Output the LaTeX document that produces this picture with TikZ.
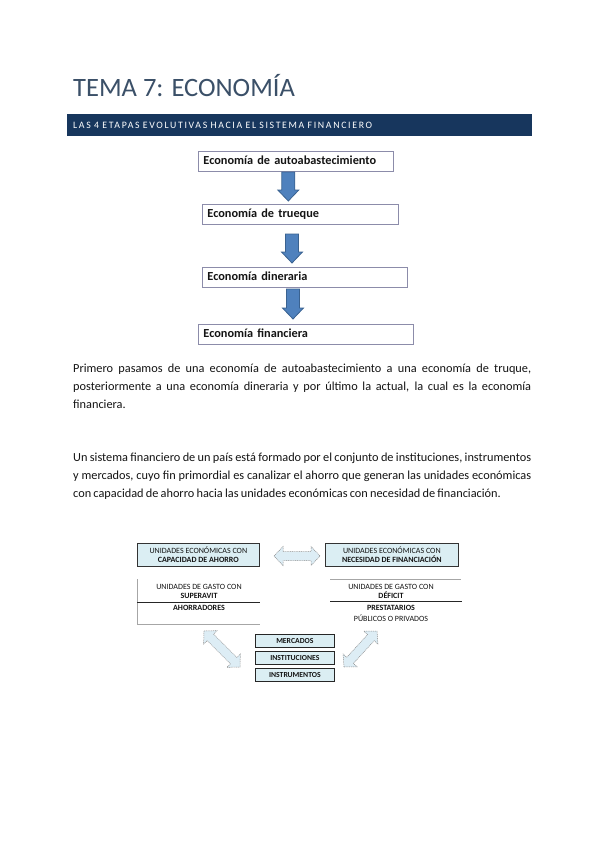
\documentclass[tikz,border=0pt]{standalone}
\usepackage{fontspec}
\setmainfont{Carlito}
\newfontfamily\parafont[WordSpace=0.8]{Carlito}
\usetikzlibrary{calc,shadows}
\definecolor{titlecol}{HTML}{3B5068}
\definecolor{bannercol}{HTML}{17365D}
\definecolor{stageborder}{HTML}{8C8CAA}
\definecolor{arrowfill}{HTML}{4F81BD}
\definecolor{arrowline}{HTML}{3A6290}
\definecolor{lightblue}{HTML}{DBEEF3}
\definecolor{dafill}{HTML}{DDEDF5}
\definecolor{txt}{HTML}{141414}
\newcommand\dnarrow[3]{\filldraw[blockarrow] (#1-6.5,#2) -- (#1+6.5,#2) -- (#1+6.5,#3-11) -- (#1+10.5,#3-11) -- (#1,#3) -- (#1-10.5,#3-11) -- (#1-6.5,#3-11) -- cycle;}
\newcommand\dblarrow[2]{%
  \coordinate (h1) at ($(#1)!9pt!(#2)$);
  \coordinate (h2) at ($(#2)!9pt!(#1)$);
  \filldraw[dblarr] (#1) -- ($(h1)!9.5pt!90:(#2)$) -- ($(h1)!4.5pt!90:(#2)$) -- ($(h2)!4.5pt!-90:(#1)$) -- ($(h2)!9.5pt!-90:(#1)$) -- (#2) -- ($(h2)!9.5pt!90:(#1)$) -- ($(h2)!4.5pt!90:(#1)$) -- ($(h1)!4.5pt!-90:(#2)$) -- ($(h1)!9.5pt!-90:(#2)$) -- cycle;}
\begin{document}
\begin{tikzpicture}[x=1pt,y=-1pt,
  stagebox/.style={draw=stageborder, line width=0.8pt, anchor=north west, minimum height=20pt, inner xsep=5pt, inner ysep=0pt, align=left, text height=8.5pt, text depth=2.5pt, font=\bfseries\fontsize{12.3}{14}\selectfont, text=txt},
  blockarrow/.style={fill=arrowfill, draw=arrowline, line width=0.8pt},
  ptxt/.style={anchor=base west, inner sep=0, font=\parafont\fontsize{12.3}{18}\selectfont, text=txt},
  ubox/.style={draw=black!80, fill=lightblue, line width=0.7pt, anchor=north west, inner sep=0, align=center, font=\fontsize{8}{9}\selectfont, text=txt, drop shadow={shadow xshift=1pt, shadow yshift=-1pt, fill=black!80, opacity=1}},
  mbox/.style={draw=black!85, fill=lightblue, line width=0.7pt, anchor=north west, inner sep=0, minimum width=79pt, minimum height=13pt, font=\bfseries\fontsize{7.7}{8}\selectfont, text=txt, drop shadow={shadow xshift=0.8pt, shadow yshift=-0.8pt, fill=black!80, opacity=1}},
  tabtxt/.style={inner sep=0, font=\fontsize{8}{9}\selectfont, text=txt},
  tabbold/.style={tabtxt, font=\bfseries\fontsize{8}{9}\selectfont},
  dblarr/.style={fill=dafill, draw=black!45, line width=0.5pt, dash pattern=on 1pt off 0.8pt}
]
\useasboundingbox (0,0) rectangle (599,848);
\fill[white] (0,0) rectangle (599,848);

% title and banner
\node[anchor=base west, inner sep=0, font=\fontsize{26.5}{30}\selectfont, text=titlecol] (title) at (73,97) {TEMA 7: ECONOMÍA};
\node[fill=bannercol, anchor=north west, minimum width=465pt, minimum height=22pt, inner xsep=6pt, inner ysep=0pt, text width=453pt, align=left, text=white, font=\fontsize{9.8}{10}\selectfont\addfontfeatures{LetterSpace=17}] (banner) at (67,114) {LAS 4 ETAPAS EVOLUTIVAS HACIA EL SISTEMA FINANCIERO};

% stages
\node[stagebox, minimum width=195pt, text width=185pt] (s1) at (198,151) {Economía de autoabastecimiento};
\node[stagebox, minimum width=196pt, text width=186pt] (s2) at (202,204) {Economía de trueque};
\node[stagebox, minimum width=205pt, text width=195pt] (s3) at (202,267) {Economía dineraria};
\node[stagebox, minimum width=215pt, text width=205pt] (s4) at (198,324) {Economía financiera};
\dnarrow{288.3}{172}{201}
\dnarrow{292}{234}{263}
\dnarrow{293}{289}{319}

% paragraphs
\node[ptxt] (p1a) at (73,372) {\makebox[458pt][s]{Primero pasamos de una economía de autoabastecimiento a una economía de truque,}};
\node[ptxt] (p1b) at (73,390) {\makebox[458pt][s]{posteriormente a una economía dineraria y por último la actual, la cual es la economía}};
\node[ptxt] (p1c) at (73,408) {financiera.};
\node[ptxt] (p2a) at (73,461) {\makebox[458pt][s]{Un sistema financiero de un país está formado por el conjunto de instituciones, instrumentos}};
\node[ptxt] (p2b) at (73,479) {\makebox[458pt][s]{y mercados, cuyo fin primordial es canalizar el ahorro que generan las unidades económicas}};
\node[ptxt] (p2c) at (73,497) {con capacidad de ahorro hacia las unidades económicas con necesidad de financiación.};

% financial system diagram
\node[ubox, minimum width=122pt, minimum height=23pt] (capA) at (137,543) {UNIDADES ECONÓMICAS CON\\\textbf{CAPACIDAD DE AHORRO}};
\node[ubox, minimum width=133pt, minimum height=23pt] (necB) at (325,543) {UNIDADES ECONÓMICAS CON\\\textbf{NECESIDAD DE FINANCIACIÓN}};
\coordinate (ha) at (274,556);
\coordinate (hb) at (320,556);
\dblarrow{ha}{hb}

% left table
\draw[black!35, line width=0.6pt] (137,579) -- (137,624) -- (260,624);
\draw[black!85, line width=0.7pt] (137,602) -- (260,602);
\node[tabtxt] (lt1) at (199,587) {UNIDADES DE GASTO CON};
\node[tabbold] (lt2) at (199,596) {SUPERAVIT};
\node[tabbold] (lt3) at (199,608) {AHORRADORES};

% right table
\draw[black!35, line width=0.6pt] (330,579) -- (461,579);
\draw[black!85, line width=0.7pt] (330,601) -- (462,601);
\node[tabtxt] (rt1) at (391,587) {UNIDADES DE GASTO CON};
\node[tabbold] (rt2) at (391,595.5) {DÉFICIT};
\node[tabbold] (rt3) at (391,607.5) {PRESTATARIOS};
\node[tabtxt] (rt4) at (391,618) {PÚBLICOS O PRIVADOS};

% center boxes
\node[mbox] (mer) at (255,634) {MERCADOS};
\node[mbox] (ins) at (255,651) {INSTITUCIONES};
\node[mbox] (inst) at (255,668) {INSTRUMENTOS};

\coordinate (la) at (204,631);
\coordinate (lb) at (240,667);
\dblarrow{la}{lb}
\coordinate (ra) at (344,667);
\coordinate (rb) at (377,631);
\dblarrow{ra}{rb}
\end{tikzpicture}
\end{document}
